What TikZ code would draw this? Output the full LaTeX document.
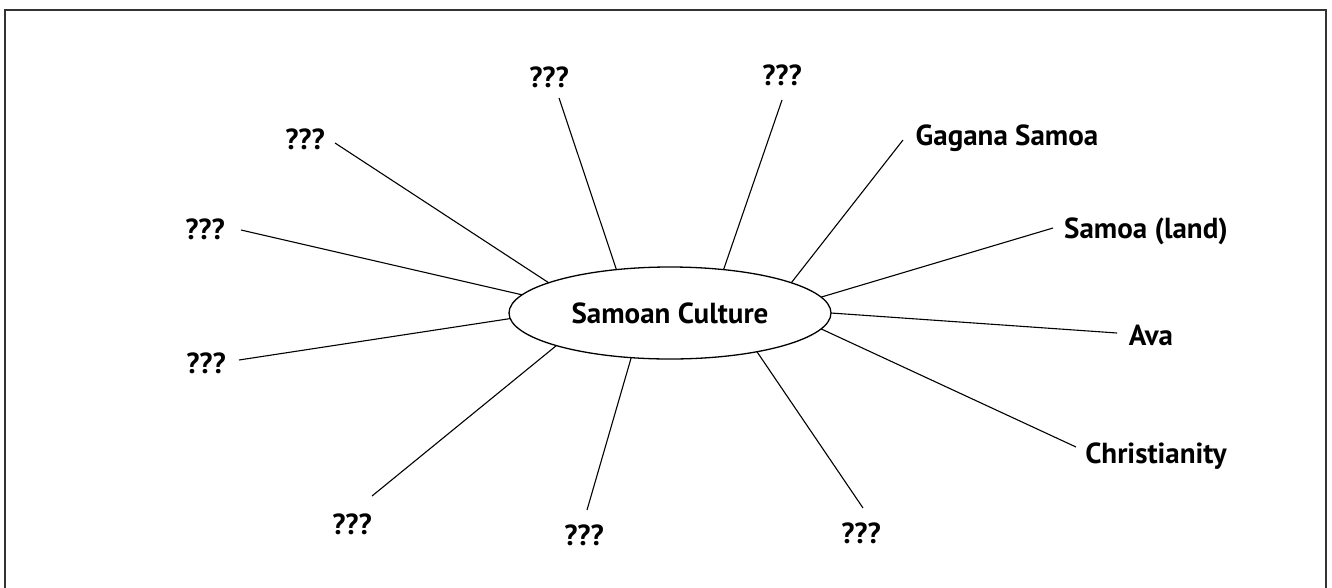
\documentclass[tikz,border=0pt]{standalone}
\usepackage{fontspec}
\setmainfont{PT Sans}
\usetikzlibrary{shapes.geometric}
\tikzset{
  lbl/.style={font=\fontsize{29}{31}\selectfont\bfseries, inner sep=0pt, anchor=base},
  spoke/.style={line width=1.1pt, draw=black},
  hub/.style={ellipse, draw=black, line width=1.3pt, minimum width=322pt, minimum height=92pt, inner sep=0pt, outer sep=0pt, font=\fontsize{29}{31}\selectfont\bfseries}
}
\begin{document}
\begin{tikzpicture}[x=1pt,y=-1pt]
\useasboundingbox (0,0) rectangle (1332,587);
\draw[line width=1.5pt, black!80] (5,10) rectangle (1326,620);

\node[hub] (hub) at (670,313) {Samoan Culture};

% labels
\node[lbl] (ul) at (305,149) {???};
\node[lbl] (lu) at (205,239) {???};
\node[lbl] (ll) at (206,373) {???};
\node[lbl] (bl) at (352,534) {???};
\node[lbl] (bc) at (584,545) {???};
\node[lbl] (br) at (861,543) {???};
\node[lbl] (chr) at (1156,463) {Christianity};
\node[lbl] (ava) at (1151,345) {Ava};
\node[lbl] (sam) at (1146,238) {Samoa (land)};
\node[lbl] (gag) at (1007,145) {Gagana Samoa};
\node[lbl] (tr) at (782,85) {???};
\node[lbl] (tl) at (549,87) {???};

% outer ends of spokes
\coordinate (ulE) at (335,143);
\coordinate (luE) at (241,230);
\coordinate (llE) at (239,360);
\coordinate (blE) at (372,496);
\coordinate (bcE) at (587,510);
\coordinate (brE) at (863,508);
\coordinate (chrE) at (1076,447);
\coordinate (avaE) at (1117,333);
\coordinate (samE) at (1053,228);
\coordinate (gagE) at (903,140);
\coordinate (trE) at (782,100);
\coordinate (tlE) at (559,98);

\draw[spoke] (ulE) -- (hub.166.1);
\draw[spoke] (luE) -- (hub.173.5);
\draw[spoke] (llE) -- (hub.182.1);
\draw[spoke] (blE) -- (hub.196);
\draw[spoke] (bcE) -- (hub.229.8);
\draw[spoke] (brE) -- (hub.336.3);
\draw[spoke] (chrE) -- (hub.354.9);
\draw[spoke] (avaE) -- (hub.0);
\draw[spoke] (samE) -- (hub.6);
\draw[spoke] (gagE) -- (hub.14.7);
\draw[spoke] (trE) -- (hub.39.2);
\draw[spoke] (tlE) -- (hub.141.3);
\end{tikzpicture}
\end{document}
